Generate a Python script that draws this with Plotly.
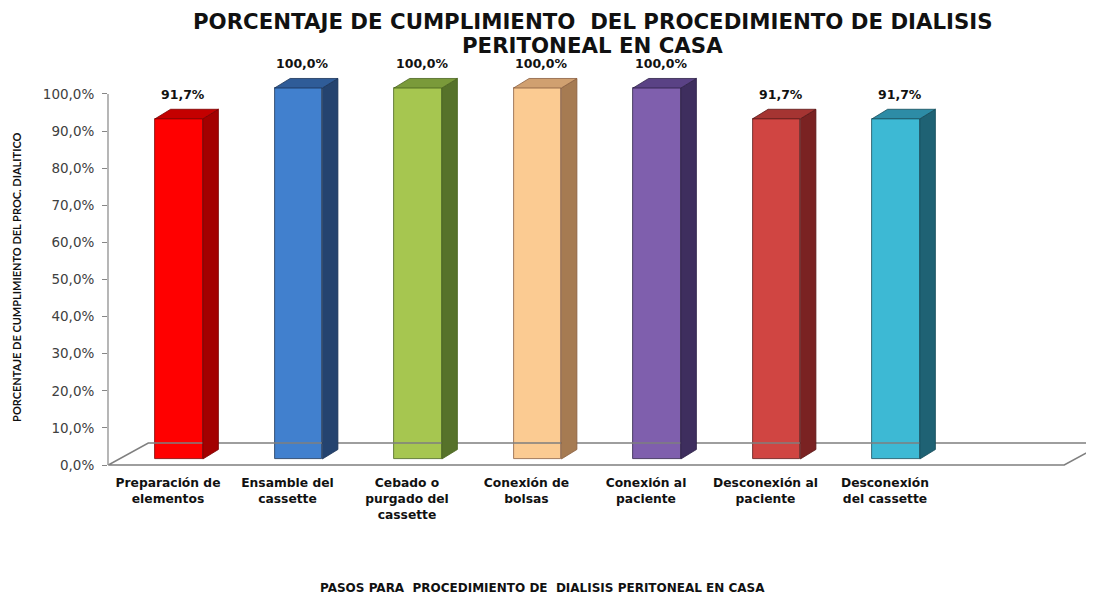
import plotly.graph_objects as go

# ---- data ----
categories = [
    "Preparación de<br>elementos",
    "Ensamble del<br>cassette",
    "Cebado o<br>purgado del<br>cassette",
    "Conexión de<br>bolsas",
    "Conexión al<br>paciente",
    "Desconexión al<br>paciente",
    "Desconexión<br>del cassette",
]
values = [91.7, 100.0, 100.0, 100.0, 100.0, 91.7, 91.7]
value_labels = ["91,7%", "100,0%", "100,0%", "100,0%", "100,0%", "91,7%", "91,7%"]
front_colors = ["#FF0000", "#4180CE", "#A6C650", "#FBCB92", "#7F5FAD", "#D04542", "#3DB9D4"]
side_colors = ["#A30000", "#24436F", "#56722A", "#A67B52", "#3E2E5E", "#7A2222", "#1F6274"]
top_colors = ["#C40000", "#2F5C98", "#7A9A3A", "#D0A070", "#5A4285", "#A53432", "#2D8CA6"]
edge_colors = ["#7A0000", "#1A3358", "#4A6420", "#8A6040", "#2E2248", "#5A1818", "#174C5A"]
y_tickvals = [0, 10, 20, 30, 40, 50, 60, 70, 80, 90, 100]
y_ticktext = ["0,0%", "10,0%", "20,0%", "30,0%", "40,0%", "50,0%", "60,0%",
              "70,0%", "80,0%", "90,0%", "100,0%"]

# ---- pseudo-3D geometry (in axis units) ----
n_slots = 8                 # floor spans 8 category slots
bar_w = 0.40                # front face width
front_dx, front_dy = 0.092, 1.62   # offset of bar front face from floor front edge
depth_dx, depth_dy = 0.13, 2.56    # bar depth (side/top faces)
floor_dx, floor_dy = 0.335, 5.93   # floor depth

CAL = "Lato, Liberation Sans, Arial"
WIDE = "DejaVu Sans, Verdana, Arial"

fig = go.Figure()

# floor parallelogram
fx = [-0.5, n_slots - 0.5, n_slots - 0.5 + floor_dx, -0.5 + floor_dx, -0.5]
fy = [0, 0, floor_dy, floor_dy, 0]
fig.add_trace(go.Scatter(x=fx, y=fy, mode="lines", line=dict(color="#7F7F7F", width=1.6),
                         hoverinfo="skip", showlegend=False))

for i, v in enumerate(values):
    xl = i + front_dx - bar_w / 2
    xr = i + front_dx + bar_w / 2
    b = front_dy
    t = front_dy + v
    # side face
    fig.add_trace(go.Scatter(
        x=[xr, xr, xr + depth_dx, xr + depth_dx, xr],
        y=[b, t, t + depth_dy, b + depth_dy, b],
        fill="toself", fillcolor=side_colors[i], mode="lines",
        line=dict(color=edge_colors[i], width=0.8), hoverinfo="skip", showlegend=False))
    # top face
    fig.add_trace(go.Scatter(
        x=[xl, xr, xr + depth_dx, xl + depth_dx, xl],
        y=[t, t, t + depth_dy, t + depth_dy, t],
        fill="toself", fillcolor=top_colors[i], mode="lines",
        line=dict(color=edge_colors[i], width=0.8), hoverinfo="skip", showlegend=False))

# front faces
fig.add_trace(go.Bar(
    x=[i + front_dx for i in range(len(values))], y=values, base=front_dy,
    width=bar_w, marker=dict(color=front_colors, line=dict(color=edge_colors, width=0.8)),
    showlegend=False, hoverinfo="skip"))

# value labels
for i, v in enumerate(values):
    fig.add_annotation(x=i + front_dx + 0.034, y=front_dy + v + depth_dy, text=value_labels[i],
                       showarrow=False, yanchor="middle", xanchor="center", yshift=15,
                       font=dict(family="DejaVu Sans", size=12.5, color="#111111", weight="bold"))

# y axis line (0..100)
fig.add_shape(type="line", xref="paper", yref="y", x0=0, x1=0, y0=0, y1=100,
              line=dict(color="#868686", width=1.2))

# axis titles
fig.add_annotation(xref="paper", yref="y", x=-0.0923, y=50.7, xanchor="center", yanchor="middle",
                   text="PORCENTAJE DE CUMPLIMIENTO DEL PROC. DIALITICO",
                   textangle=-90, showarrow=False,
                   font=dict(family=CAL, size=11, color="#111111", weight="bold"))
fig.add_annotation(xref="paper", yref="paper", x=0.441, y=-0.278, xanchor="center",
                   yanchor="middle",
                   text="PASOS PARA  PROCEDIMIENTO DE  DIALISIS PERITONEAL EN CASA",
                   showarrow=False,
                   font=dict(family=WIDE, size=12, color="#111111", weight="bold"))

# title (two lines)
fig.add_annotation(xref="paper", yref="paper", x=0.4917, y=1 + (47 - 13) / 417,
                   text="PORCENTAJE DE CUMPLIMIENTO  DEL PROCEDIMIENTO DE DIALISIS",
                   showarrow=False, yanchor="middle", xanchor="center", borderpad=0,
                   font=dict(family=WIDE, size=21.3, color="#111111", weight="bold"))
fig.add_annotation(xref="paper", yref="paper", x=0.4917, y=1 + (47 - 38) / 417,
                   text="PERITONEAL EN CASA",
                   showarrow=False, yanchor="middle", xanchor="center", borderpad=0,
                   font=dict(family=WIDE, size=21.3, color="#111111", weight="bold"))

fig.update_layout(
    width=1086, height=589,
    paper_bgcolor="white", plot_bgcolor="white",
    margin=dict(l=100, r=0, t=47, b=125),
    xaxis=dict(range=[-0.502, 7.749], tickmode="array", tickvals=list(range(len(categories))),
               ticktext=categories, showgrid=False, zeroline=False, showline=False, ticks="",
               ticklabelstandoff=2,
               tickfont=dict(family="DejaVu Sans", size=12.3, color="#111111", weight="bold")),
    yaxis=dict(range=[-1.887, 110.51], tickmode="array", tickvals=y_tickvals, ticktext=y_ticktext,
               showgrid=False, zeroline=False, showline=False, ticks="outside", ticklen=5,
               tickcolor="#868686", ticklabelstandoff=5,
               tickfont=dict(family="DejaVu Sans", size=13.5, color="#404040")),
    bargap=0,
)

fig.write_html("out.html")
